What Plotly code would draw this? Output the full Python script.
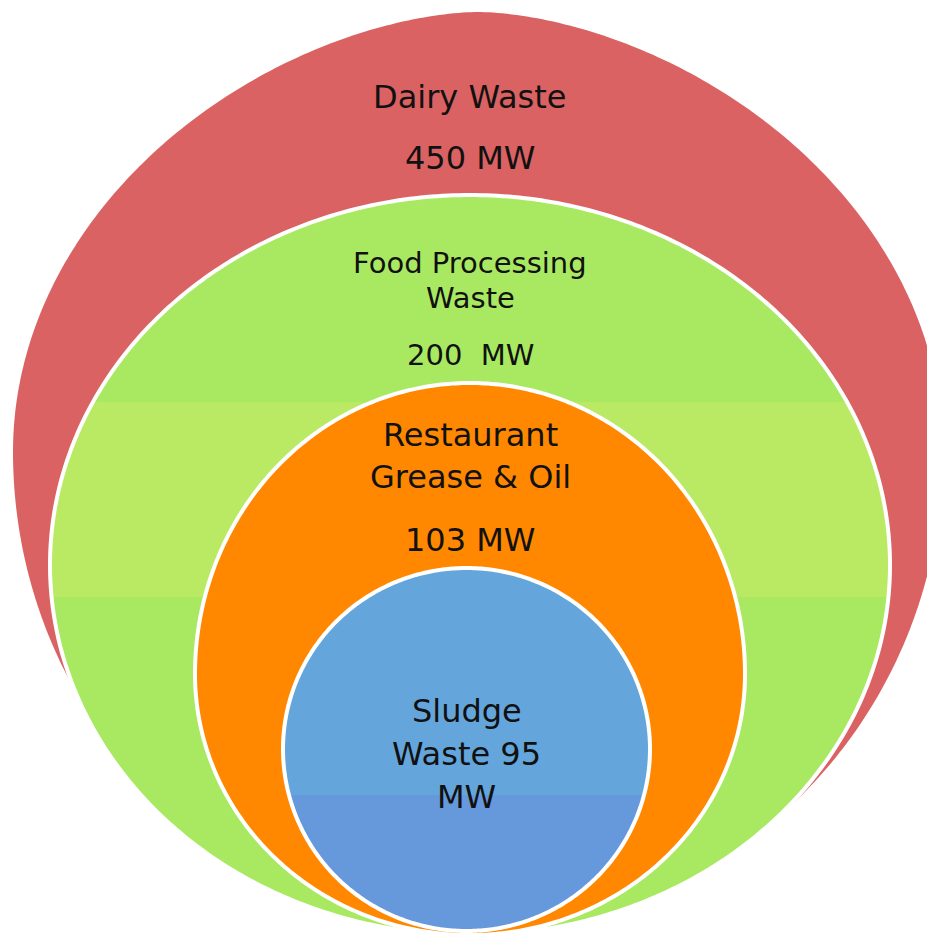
import numpy as np
import plotly.graph_objects as go

# Dados
categorias = ["Dairy Waste", "Food Processing Waste", "Restaurant Grease & Oil", "Sludge Waste"]
potencia_mw = [450, 200, 103, 95]

# texto de cada rótulo, linha a linha
linhas = [
    ["Dairy Waste", f"{potencia_mw[0]} MW"],
    ["Food Processing", "Waste", f"{potencia_mw[1]}  MW"],
    ["Restaurant", "Grease & Oil", f"{potencia_mw[2]} MW"],
    ["Sludge", f"Waste {potencia_mw[3]}", "MW"],
]

# Geometria (pixels, y para baixo): cx, semi-eixo x, topo, y mais largo, base, expoente da metade de cima
formas = [
    (478, 465, 12, 452, 930, 0.58),
    (470, 420, 195, 565, 935, 0.5),
    (470, 275, 383, 674, 935, 0.5),
    (466.5, 183.5, 568, 749, 931, 0.5),
]
cores = ["#DB6262", "#A9E962", "#FF8800", "#64A6DC"]
contorno = [0, 4, 4, 4]
# faixas de cor (indice da forma, y inicial, y final, cor)
faixas = [(1, 402, 597, "#BAE963"), (3, 795, 940, "#6698DC")]

pos_y = [[97, 158], [263, 298, 355], [435, 477, 540], [711, 754, 797]]
pos_x = [470, 470, 470, 466.5]
tam_fonte = [32, 29, 32, 32]


def meia_largura(forma, y):
    cx, a, topo, meio, base, q = forma
    if y < meio:
        b, e = meio - topo, q
    else:
        b, e = base - meio, 0.5
    r = 1 - ((y - meio) / b) ** 2
    return a * max(r, 0) ** e


def caminho_completo(forma):
    cx, a, topo, meio, base, q = forma
    pts = []
    for t in np.linspace(-np.pi / 2, np.pi / 2, 241):
        if t < 0:
            b, e = meio - topo, q
        else:
            b, e = base - meio, 0.5
        pts.append((cx + a * abs(np.cos(t)) ** (2 * e), meio + b * np.sin(t)))
    pts += [(2 * cx - x, y) for x, y in reversed(pts)]
    return "M " + " L ".join(f"{x:.2f},{y:.2f}" for x, y in pts) + " Z"


def caminho_faixa(forma, y0, y1):
    cx = forma[0]
    y1 = min(y1, forma[4])
    ys = np.linspace(y0, y1, 120)
    dir_ = [(cx + meia_largura(forma, y), y) for y in ys]
    esq = [(cx - meia_largura(forma, y), y) for y in reversed(ys)]
    pts = dir_ + esq
    return "M " + " L ".join(f"{x:.2f},{y:.2f}" for x, y in pts) + " Z"


fig = go.Figure()

for i, forma in enumerate(formas):
    fig.add_shape(type="path", path=caminho_completo(forma), xref="x", yref="y",
                  fillcolor=cores[i], line=dict(width=0))
    for (k, y0, y1, c) in faixas:
        if k == i:
            fig.add_shape(type="path", path=caminho_faixa(forma, y0, y1), xref="x", yref="y",
                          fillcolor=c, line=dict(width=0))
    if contorno[i]:
        fig.add_shape(type="path", path=caminho_completo(forma), xref="x", yref="y",
                      fillcolor="rgba(0,0,0,0)", line=dict(color="white", width=contorno[i]))

for i, cat in enumerate(categorias):
    for txt, y in zip(linhas[i], pos_y[i]):
        fig.add_annotation(x=pos_x[i], y=y, text=txt, showarrow=False, xanchor="center", yanchor="middle",
                           font=dict(family="DejaVu Sans", size=tam_fonte[i], color="#111111"))

fig.update_layout(
    width=927, height=934,
    margin=dict(l=0, r=0, t=0, b=0),
    paper_bgcolor="white", plot_bgcolor="white",
    showlegend=False,
)
fig.update_xaxes(range=[0, 927], visible=False, fixedrange=True)
fig.update_yaxes(range=[934, 0], visible=False, fixedrange=True)

# tira a margem padrão do body para a figura ocupar a janela toda
fig.write_html("out.html", config={"displayModeBar": False},
               post_script="document.body.style.margin='0';")
